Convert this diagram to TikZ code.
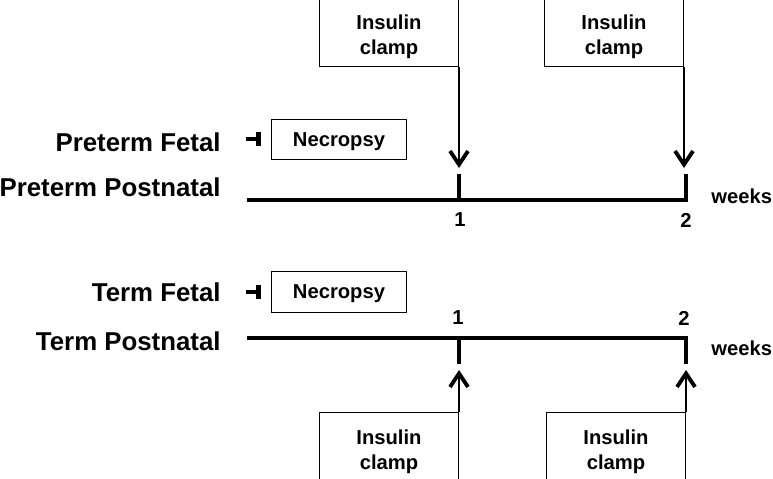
\documentclass[tikz,border=0pt]{standalone}
\usepackage{fontspec}
\setmainfont{Liberation Sans}
\usetikzlibrary{arrows.meta,positioning,calc}

\tikzset{
	rowlabel/.style		= {anchor=east, inner sep=0pt, font=\fontsize{14.7}{18}\selectfont\bfseries},
	smalltext/.style	= {font=\fontsize{11.5}{14.2}\selectfont\bfseries},
	clamptext/.style	= {smalltext, align=center, inner sep=0pt},
	clampbox/.style		=
	{
		draw,
		line width		= 0.6pt,
		minimum width	= 2.78cm,
		minimum height	= 1.34cm,
		inner sep		= 0pt,
		label			= {[clamptext, yshift=#1]center:{Insulin\\clamp}}
	},
	necrobox/.style		=
	{
		draw,
		line width		= 0.6pt,
		smalltext,
		text depth		= 0pt,
		minimum width	= 2.7cm,
		minimum height	= 0.81cm,
		inner sep		= 0pt
	},
	timeline/.style		= {line width=2.8pt, line join=miter},
	weektick/.style		= {line width=2.5pt},
	clamparrow/.style	= {line width=0.6pt, -{Straight Barb[length=0.27cm, width=0.36cm, line width=2.2pt]}}
}

\begin{document}
\begin{tikzpicture}[x=0.02cm, y=-0.02cm]
		%
		\useasboundingbox (0,0) rectangle (773,479);
		%
		% preterm group
		\node[rowlabel] (ptFetal) at (221,142) {Preterm Fetal};
		\node[rowlabel] (ptPost) at (221,187) {Preterm Postnatal};
		\node[necrobox, anchor=west] (ptNecro) at (271,139.5) {Necropsy};
		\coordinate (ptMark) at (246,139);
		\draw[line width=2.3pt] (ptMark) -- ++(12,0);
		\draw[line width=2.8pt] ($(ptMark)+(12.5,-7)$) -- ++(0,14);
		%
		\coordinate (ptStart) at (247,200);
		\coordinate (ptWkA) at (459,200);
		\coordinate (ptWkB) at (686,200);
		\draw[timeline] (ptStart) -- (ptWkB) -- ++(0,-26);
		\draw[weektick] (ptWkA) -- ++(0,-26);
		\node[smalltext] (ptOne) at (460,220) {1};
		\node[smalltext] (ptTwo) at (686,220) {2};
		\node[smalltext, anchor=west, inner sep=0pt] (ptWeeks) at (711,196) {weeks};
		%
		\node[clampbox=-0.08cm, anchor=south east] (clampA) at (459,67) {};
		\node[clampbox=-0.08cm, anchor=south east] (clampB) at (684,67) {};
		\coordinate (tipA) at (459,168);
		\coordinate (tipB) at (684,168);
		\draw[clamparrow] (clampA.south east) -- (tipA);
		\draw[clamparrow] (clampB.south east) -- (tipB);
		%
		% term group
		\node[rowlabel] (tFetal) at (221,292) {Term Fetal};
		\node[rowlabel] (tPost) at (221,341) {Term Postnatal};
		\node[necrobox, anchor=west] (tNecro) at (271,292) {Necropsy};
		\coordinate (tMark) at (246,292);
		\draw[line width=2.3pt] (tMark) -- ++(12,0);
		\draw[line width=2.8pt] ($(tMark)+(12.5,-7)$) -- ++(0,14);
		%
		\coordinate (tStart) at (247,338);
		\coordinate (tWkA) at (459,338);
		\coordinate (tWkB) at (686,338);
		\draw[timeline] (tStart) -- (tWkB) -- ++(0,26);
		\draw[weektick] (tWkA) -- ++(0,26);
		\node[smalltext] (tOne) at (458,318) {1};
		\node[smalltext] (tTwo) at (684,318) {2};
		\node[smalltext, anchor=west, inner sep=0pt] (tWeeks) at (711,348) {weeks};
		%
		\node[clampbox=-0.12cm, anchor=north east] (clampC) at (459,412) {};
		\node[clampbox=-0.12cm, anchor=north east] (clampD) at (686,412) {};
		\coordinate (tipC) at (459,370);
		\coordinate (tipD) at (686,370);
		\draw[clamparrow] (clampC.north east) -- (tipC);
		\draw[clamparrow] (clampD.north east) -- (tipD);
		%
	\end{tikzpicture}
\end{document}
